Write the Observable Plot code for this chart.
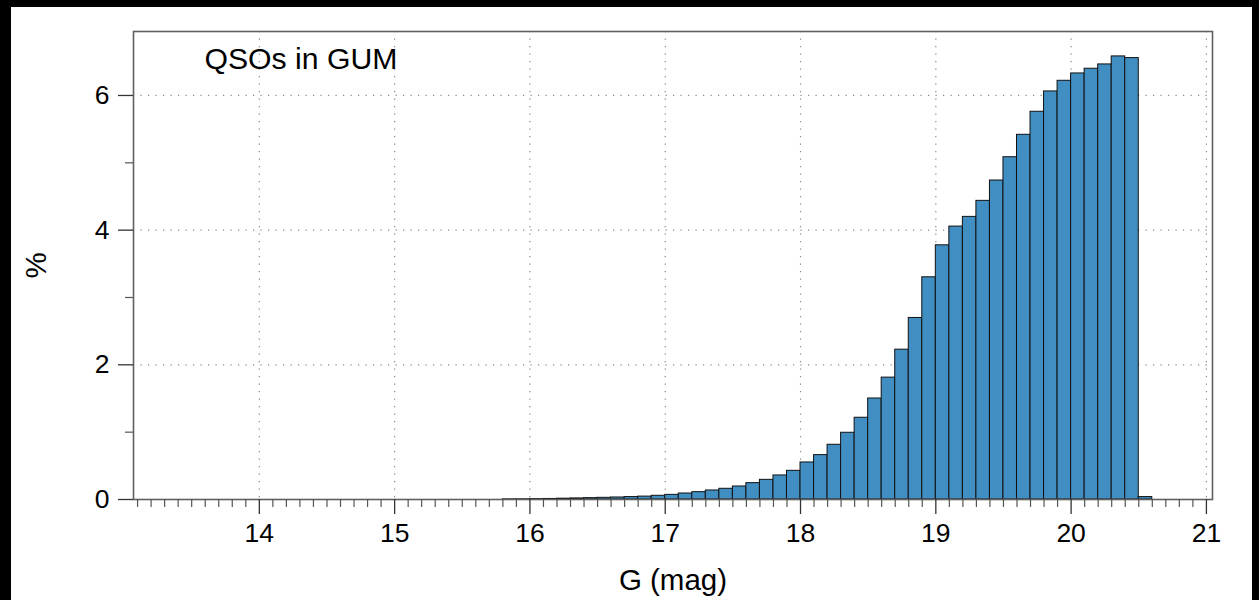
<!DOCTYPE html>
<html>
<head>
<meta charset="utf-8">
<script src="https://cdn.jsdelivr.net/npm/d3@7"></script>
<script src="https://cdn.jsdelivr.net/npm/@observablehq/plot@0.6"></script>
<style>
  html, body { margin: 0; padding: 0; background: #000; overflow: hidden; }
  #chart { position: absolute; left: 11px; top: 7px; }
  #chart svg { background: #fff; display: block; }
  #chart svg g[aria-label$="tick label"] { font-size: 26.5px; }
</style>
</head>
<body>
<div id="chart"></div>
<script>
// Histogram bins (lower edge, mag) and share of QSOs (%)
const binStart = [15.8, 15.9, 16.0, 16.1, 16.2, 16.3, 16.4, 16.5, 16.6, 16.7, 16.8, 16.9,
  17.0, 17.1, 17.2, 17.3, 17.4, 17.5, 17.6, 17.7, 17.8, 17.9,
  18.0, 18.1, 18.2, 18.3, 18.4, 18.5, 18.6, 18.7, 18.8, 18.9,
  19.0, 19.1, 19.2, 19.3, 19.4, 19.5, 19.6, 19.7, 19.8, 19.9,
  20.0, 20.1, 20.2, 20.3, 20.4, 20.5];
const percent = [0.002, 0.003, 0.005, 0.008, 0.012, 0.016, 0.020, 0.025, 0.030, 0.036, 0.043, 0.055,
  0.069, 0.089, 0.109, 0.134, 0.159, 0.193, 0.243, 0.292, 0.357, 0.426,
  0.550, 0.659, 0.813, 0.991, 1.214, 1.500, 1.810, 2.225, 2.696, 3.300,
  3.775, 4.053, 4.197, 4.435, 4.737, 5.083, 5.416, 5.758, 6.060, 6.218,
  6.327, 6.397, 6.461, 6.580, 6.555, 0.036];
const binWidth = 0.1;
const xTicks = [14, 15, 16, 17, 18, 19, 20, 21];
const yTicks = [0, 2, 4, 6];
const yMinorTicks = [1, 3, 5];
const titleText = "QSOs in GUM";
const xLabel = "G (mag)";
const yLabel = "%";

const bins = binStart.map((b, i) => ({x1: b, x2: +(b + binWidth).toFixed(2), y: percent[i]}));
const xMinorTicks = d3.range(131, 211).map(d => d / 10).filter(d => !Number.isInteger(d));

const font = "'Liberation Sans', Arial, Helvetica, sans-serif";

const chart = Plot.plot({
  width: 1241,
  height: 593,
  marginLeft: 122,
  marginRight: 40,
  marginTop: 24,
  marginBottom: 101,
  style: {fontFamily: font, background: "#fff", color: "#000"},
  x: {domain: [13.07, 21.045]},
  y: {domain: [0, 6.95]},
  marks: [
    Plot.ruleX(xTicks, {stroke: "#888", strokeWidth: 1.2, strokeDasharray: "1.2,6.3"}),
    Plot.ruleY(yTicks.filter(d => d > 0), {stroke: "#888", strokeWidth: 1.2, strokeDasharray: "1.2,6.3"}),
    Plot.rectY(bins, {x1: "x1", x2: "x2", y: "y", fill: "#418ec2", stroke: "#111", strokeWidth: 1}),
    Plot.frame({stroke: "#606060", strokeWidth: 1.6}),
    Plot.axisX({ticks: xMinorTicks, tickSize: 8, tickFormat: () => "", stroke: "#555", strokeWidth: 1.2, label: null}),
    Plot.axisX({ticks: xTicks, tickSize: 15, tickPadding: 9, fontSize: 26.5, tickFormat: d => String(d), stroke: "#333", strokeWidth: 1.3, label: null}),
    Plot.axisY({ticks: yMinorTicks, tickSize: 8, tickFormat: () => "", stroke: "#555", strokeWidth: 1.2, label: null}),
    Plot.axisY({ticks: yTicks, tickSize: 15, tickPadding: 9, fontSize: 26.5, tickFormat: d => String(d), stroke: "#333", strokeWidth: 1.3, label: null}),
    Plot.text([titleText], {frameAnchor: "top-left", text: d => d, dx: 71, dy: 27.5, textAnchor: "start", lineAnchor: "middle", fontSize: 30.2, fill: "#000"}),
    Plot.text([xLabel], {frameAnchor: "bottom", text: d => d, dy: 81, textAnchor: "middle", lineAnchor: "middle", fontSize: 29.5, fill: "#000"}),
    Plot.text([yLabel], {frameAnchor: "left", text: d => d, dx: -96.5, rotate: -90, textAnchor: "middle", lineAnchor: "middle", fontSize: 29.5, fill: "#000"})
  ]
});
document.getElementById("chart").appendChild(chart);
</script>
</body>
</html>
